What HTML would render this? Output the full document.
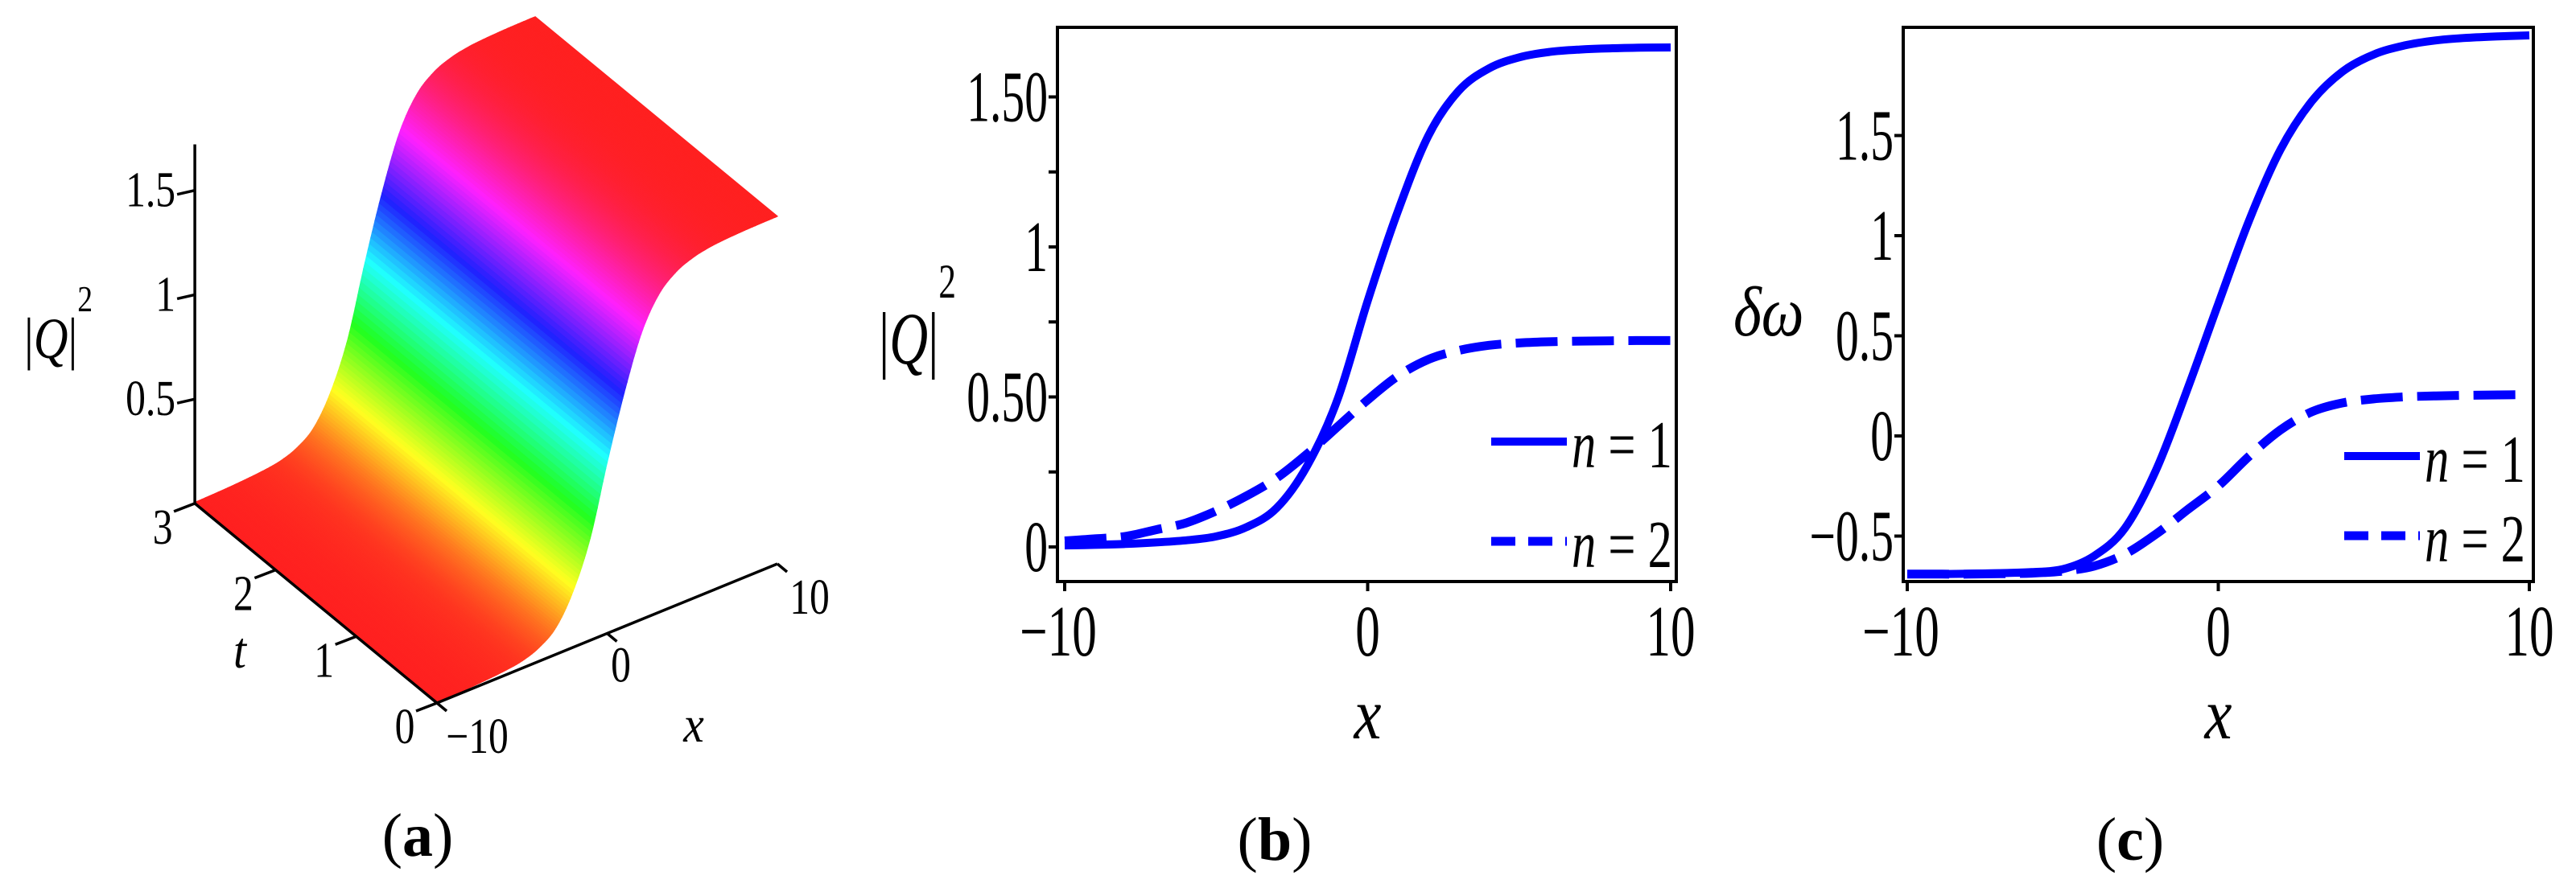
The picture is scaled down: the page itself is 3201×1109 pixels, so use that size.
<!DOCTYPE html>
<html><head><meta charset="utf-8">
<style>
html,body{margin:0;padding:0;background:#fff;}
svg{display:block;}
text{font-family:"Liberation Serif","DejaVu Serif",serif;fill:#000;}
</style></head>
<body>
<svg id="fig" width="3201" height="1109" viewBox="0 0 3201 1109" xmlns="http://www.w3.org/2000/svg">
<rect width="3201" height="1109" fill="#fff"/>
<g id="pa"></g>
<g id="pb"></g>
<g id="pc"></g>
</svg>
<script>
// ---------- data ----------
const xValues = [-10,-9,-8,-7,-6,-5,-4,-3,-2,-1,0,1,2,3,4,5,6,7,8,9,10];
const bN1 = [0.005,0.007,0.01,0.015,0.022,0.035,0.066,0.13,0.27,0.49,0.82,1.12,1.37,1.52,1.595,1.632,1.65,1.658,1.662,1.664,1.665];
const bN2 = [0.02,0.027,0.035,0.057,0.08,0.12,0.17,0.23,0.31,0.40,0.49,0.57,0.625,0.655,0.672,0.68,0.684,0.686,0.687,0.688,0.688];
const cN1 = [-0.69,-0.69,-0.688,-0.685,-0.68,-0.665,-0.6,-0.46,-0.17,0.23,0.66,1.08,1.43,1.67,1.82,1.905,1.95,1.975,1.988,1.995,2.0];
const cN2 = [-0.69,-0.69,-0.69,-0.688,-0.685,-0.675,-0.65,-0.59,-0.49,-0.37,-0.25,-0.1,0.03,0.12,0.165,0.185,0.195,0.2,0.203,0.205,0.206];
const surfZ = bN1;
const tRange = [0,3];
const bYTicks = [0,0.5,1,1.5];
const bYTickLabels = ["0","0.50","1","1.50"];
const bYMinor = [0.25,0.75,1.25];
const cYTicks = [-0.5,0,0.5,1,1.5];
const cYTickLabels = ["\u22120.5","0","0.5","1","1.5"];
const xTicks = [-10,0,10];
const xTickLabels = ["\u221210","0","10"];
const aZTicks = [0.5,1,1.5];
const aZTickLabels = ["0.5","1","1.5"];
const aTTicks = [0,1,2,3];
const aTTickLabels = ["0","1","2","3"];
const aXTicks = [-10,0,10];
const aXTickLabels = ["\u221210","0","10"];

const NS="http://www.w3.org/2000/svg";
const FONT='"Liberation Serif", "DejaVu Serif", serif';
function mk(parent,tag,attrs){const e=document.createElementNS(NS,tag);for(const k in attrs)e.setAttribute(k,attrs[k]);parent.appendChild(e);return e;}
function txt(parent,x,y,s,size,anchor,sx,style){
  const e=document.createElementNS(NS,'text');
  e.setAttribute('transform','translate('+x+','+y+') scale('+sx+',1)');
  e.setAttribute('font-size',size);
  e.setAttribute('font-family',FONT);
  e.setAttribute('text-anchor',anchor);
  if(style) e.setAttribute('style',style);
  e.textContent=s;parent.appendChild(e);return e;
}
function smooth(pts){
  let d='M'+pts[0][0].toFixed(1)+','+pts[0][1].toFixed(1);
  for(let i=0;i<pts.length-1;i++){
    const p0=pts[Math.max(0,i-1)],p1=pts[i],p2=pts[i+1],p3=pts[Math.min(pts.length-1,i+2)];
    const c1=[p1[0]+(p2[0]-p0[0])/6,p1[1]+(p2[1]-p0[1])/6];
    const c2=[p2[0]-(p3[0]-p1[0])/6,p2[1]-(p3[1]-p1[1])/6];
    d+=' C'+c1[0].toFixed(1)+','+c1[1].toFixed(1)+' '+c2[0].toFixed(1)+','+c2[1].toFixed(1)+' '+p2[0].toFixed(1)+','+p2[1].toFixed(1);
  }
  return d;
}

// ---------- 2D charts ----------
function chart2d(g,cfg){
  const X=v=>cfg.x0+(v+10)*(cfg.x1-cfg.x0)/20;
  const Y=v=>cfg.yz-v*cfg.ypu;
  const box=mk(g,'rect',{x:cfg.L,y:cfg.T,width:cfg.R-cfg.L,height:cfg.B-cfg.T,fill:'none',stroke:'#000','stroke-width':4});
  
  
  cfg.yTicks.forEach((v,i)=>{
    const t=mk(g,'line',{x1:cfg.L-11,x2:cfg.L,y1:Y(v),y2:Y(v),stroke:'#000','stroke-width':4});
    
    
    const l=txt(g,cfg.L-12,Y(v)+30,cfg.yLabels[i],90,'end',0.64);
    
    
  });
  (cfg.yMinor||[]).forEach(v=>{
    const t=mk(g,'line',{x1:cfg.L-11,x2:cfg.L,y1:Y(v),y2:Y(v),stroke:'#000','stroke-width':4});
    
    
  });
  xTicks.forEach((v,i)=>{
    const t=mk(g,'line',{x1:X(v),x2:X(v),y1:cfg.B,y2:cfg.B+12,stroke:'#000','stroke-width':4});
    
    
    const l=txt(g,X(v)+(i==0?-8:0),cfg.B+92,xTickLabels[i],90,'middle',0.68);
    
    
  });
  const xt=txt(g,X(0),cfg.B+195,'x',90,'middle',0.85,'font-style:italic');
  
  
  const s1=mk(g,'path',{d:smooth(xValues.map((x,i)=>[X(x),Y(cfg.n1[i])])),fill:'none',stroke:'#0000ff','stroke-width':10,'stroke-linejoin':'round'});
  
  
  const s2=mk(g,'path',{d:smooth(xValues.map((x,i)=>[X(x),Y(cfg.n2[i])])),fill:'none',stroke:'#0000ff','stroke-width':11,'stroke-dasharray':'52 18'});
  
  
  // legend
  const lg=mk(g,'g',{});
  
  
  const l1=mk(lg,'line',{x1:cfg.lgx,x2:cfg.lgx+94,y1:cfg.lgy1,y2:cfg.lgy1,stroke:'#0000ff','stroke-width':10});
  
  
  const l2=mk(lg,'line',{x1:cfg.lgx,x2:cfg.lgx+94,y1:cfg.lgy2,y2:cfg.lgy2,stroke:'#0000ff','stroke-width':11,'stroke-dasharray':'30 16'});
  
  
  const e1=txt(lg,cfg.lgx+100,cfg.lgy1+32,'',84,'start',0.72);
  e1.innerHTML='<tspan font-style="italic">n</tspan> = 1';
  
  
  const e2=txt(lg,cfg.lgx+100,cfg.lgy2+32,'',84,'start',0.72);
  e2.innerHTML='<tspan font-style="italic">n</tspan> = 2';
  
  
}
const pb=document.getElementById('pb');
chart2d(pb,{L:1314,R:2083,T:34,B:723,x0:1323,x1:2076,yz:680,ypu:373,yTicks:bYTicks,yLabels:bYTickLabels,yMinor:bYMinor,n1:bN1,n2:bN2,lgx:1853,lgy1:549,lgy2:673});
const bt=txt(pb,1092,452,'',92,'start',0.72);
bt.innerHTML='|<tspan font-style="italic">Q</tspan>|<tspan font-size="60" dy="-82">2</tspan>';


const cb=txt(pb,1584,1069,'',76,'middle',1);
cb.innerHTML='(<tspan font-weight="bold">b</tspan>)';



const pc=document.getElementById('pc');
chart2d(pc,{L:2365,R:3148,T:34,B:723,x0:2370,x1:3143,yz:542,ypu:249,yTicks:cYTicks,yLabels:cYTickLabels,n1:cN1,n2:cN2,lgx:2913,lgy1:567,lgy2:666});
const ct=txt(pc,2154,417,'\u03b4\u03c9',88,'start',0.85,'font-style:italic');


const cc=txt(pc,2647,1069,'',76,'middle',1);
cc.innerHTML='(<tspan font-weight="bold">c</tspan>)';



// ---------- 3D surface ----------
const pa=document.getElementById('pa');
const O=[543,874], EX=[21.15,-8.65], ET=[-100.3,-82.7], EZ=[0,-259.5];
function P(x,t,z){return [O[0]+(x+10)*EX[0]+t*ET[0]+z*EZ[0], O[1]+(x+10)*EX[1]+t*ET[1]+z*EZ[1]];}
const zmin=Math.min(...surfZ), zmax=Math.max(...surfZ);
function hueColor(z){
  const h=((z-zmin)/(zmax-zmin))*360;
  const lo=32,hi=255;
  const f=(n)=>{const k=(n+h/60)%6;return hi-(hi-lo)*Math.max(0,Math.min(k,4-k,1));};
  return 'rgb('+Math.round(f(5))+','+Math.round(f(3))+','+Math.round(f(1))+')';
}
const surf=mk(pa,'g',{});


function crz(i,s){
  const p0=surfZ[Math.max(0,i-1)],p1=surfZ[i],p2=surfZ[i+1],p3=surfZ[Math.min(surfZ.length-1,i+2)];
  const s2=s*s,s3=s2*s;
  return 0.5*((2*p1)+(-p0+p2)*s+(2*p0-5*p1+4*p2-p3)*s2+(-p0+3*p1-3*p2+p3)*s3);
}
const SUB=12;
for(let i=xValues.length-2;i>=0;i--){
  for(let k=SUB-1;k>=0;k--){
    const xa=xValues[i]+(xValues[i+1]-xValues[i])*k/SUB, xb=xValues[i]+(xValues[i+1]-xValues[i])*(k+1)/SUB;
    const za=crz(i,k/SUB), zb=crz(i,(k+1)/SUB);
    const a=P(xa,tRange[0],za),b=P(xb,tRange[0],zb),c=P(xb,tRange[1],zb),d=P(xa,tRange[1],za);
    const col=hueColor((za+zb)/2);
    const q=mk(surf,'polygon',{points:[a,b,c,d].map(p=>p[0].toFixed(1)+','+p[1].toFixed(1)).join(' '),fill:col,stroke:col,'stroke-width':1.2});
    
    
  }
}
function axLine(a,b,name){const l=mk(pa,'line',{x1:a[0],y1:a[1],x2:b[0],y2:b[1],stroke:'#000','stroke-width':3.5});return l;}
axLine(P(-10,3,0),P(-10,3,1.72),'z-axis');
axLine(P(-10,0,0),P(-10,3,0),'t-axis');
axLine(P(-10,0,0),P(10,0,0),'x-axis');
aZTicks.forEach((v,i)=>{
  const p=P(-10,3,v);
  axLine([p[0]-22,p[1]+5],p,'z-tick');
  const l=txt(pa,p[0]-24,p[1]+20,aZTickLabels[i],62,'end',0.8);
  
  
});
aTTicks.forEach((v,i)=>{
  const p=P(-10,v,0);
  axLine([p[0]-26,p[1]+10],p,'t-tick');
  const l=txt(pa,p[0]-40,p[1]+50,aTTickLabels[i],62,'middle',0.8);
  
  
});
aXTicks.forEach((v,i)=>{
  const p=P(v,0,0);
  axLine(p,[p[0]+12,p[1]+10],'x-tick');
  const l=txt(pa,p[0]+(i==0?50:i==1?17:40),p[1]+(i==0?62:i==1?60:62),aXTickLabels[i],62,'middle',0.8);
  
  
});
const at=txt(pa,298,830,'t',64,'middle',0.9,'font-style:italic');


const ax=txt(pa,862,922,'x',64,'middle',0.9,'font-style:italic');


const az=txt(pa,30,445,'',72,'start',0.82);
az.innerHTML='|<tspan font-style="italic">Q</tspan>|<tspan font-size="46" dy="-58">2</tspan>';


const ca=txt(pa,519,1064,'',76,'middle',1);
ca.innerHTML='(<tspan font-weight="bold">a</tspan>)';


</script>
</body></html>
